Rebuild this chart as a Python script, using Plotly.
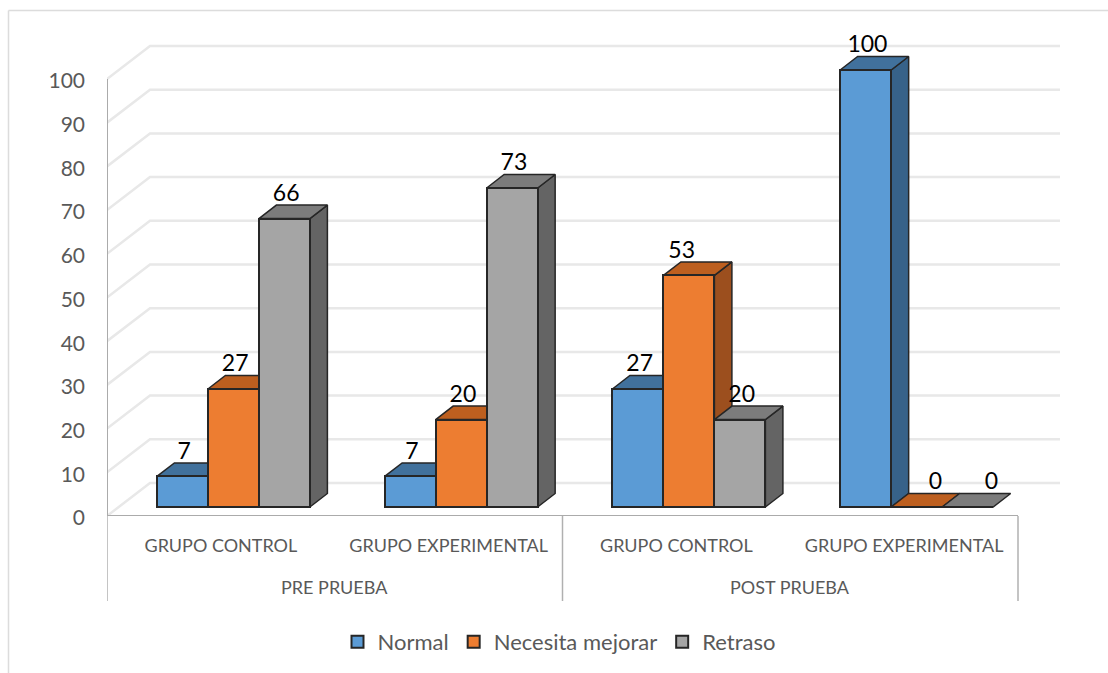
import plotly.graph_objects as go

W, H = 1108, 673
ML, MR, MT, MB = 107, 48, 20, 157

group_labels = ["GRUPO CONTROL", "GRUPO EXPERIMENTAL", "GRUPO CONTROL", "GRUPO EXPERIMENTAL"]
phase_labels = ["PRE PRUEBA", "POST PRUEBA"]
normal = [7, 7, 27, 100]
necesita = [27, 20, 53, 0]
retraso = [66, 73, 20, 0]
y_ticks = [0, 10, 20, 30, 40, 50, 60, 70, 80, 90, 100]

PW = W - ML - MR
PH = H - MT - MB
PX_X = 227.75          # px per group
PX_Y = 4.37            # px per value unit
X_MAX = PW / PX_X
Y_MAX = PH / PX_Y

WALL_DX, WALL_DY = 43 / PX_X, 33 / PX_Y
BASE_Y = 9 / PX_Y
BAR_W = 51 / PX_X
START = 0.555 - BAR_W
DEP_X, DEP_Y = 17.5 / PX_X, 13.5 / PX_Y

FONT = "Lato"
OUT = "#262626"

# horizontal nudges (px) of a few data labels, keyed by (series, group)
LABEL_NUDGE = {(1, 2): -9, (1, 3): 17, (2, 3): 22}


def pxp(px):
    return (px - ML) / PW


def pyp(py):
    return (H - MB - py) / PH


fig = go.Figure()

# walls / gridlines
gx, gy = [], []
for t in y_ticks:
    gx += [0, WALL_DX, X_MAX, None]
    gy += [t, t + WALL_DY, t + WALL_DY, None]
fig.add_trace(go.Scatter(x=gx, y=gy, mode="lines", line=dict(color="#e8e8e8", width=2.5),
                         showlegend=False, hoverinfo="skip", cliponaxis=False, zorder=0))
# axis lines
fig.add_trace(go.Scatter(x=[0, 0, 4], y=[100, 0, 0], mode="lines", line=dict(color="#ababab", width=2),
                         showlegend=False, hoverinfo="skip", cliponaxis=False, zorder=0))

series = [
    ("Normal", normal, "#5b9bd5", "#41719c", "#376289"),
    ("Necesita mejorar", necesita, "#ed7d31", "#bd5f1f", "#9c4f1e"),
    ("Retraso", retraso, "#a5a5a5", "#7c7c7c", "#646464"),
]

lx, ly, lt = [], [], []
for s, (name, vals, front, top, side) in enumerate(series):
    z = 1 + 3 * s
    xs = [i + START + s * BAR_W for i in range(4)]
    tx, ty, sx, sy = [], [], [], []
    for g, (x, v) in enumerate(zip(xs, vals)):
        l, r = x - BAR_W / 2, x + BAR_W / 2
        yt = v + BASE_Y
        tx += [l, r, r + DEP_X, l + DEP_X, l, None]
        ty += [yt, yt, yt + DEP_Y, yt + DEP_Y, yt, None]
        if v > 0:
            sx += [r, r + DEP_X, r + DEP_X, r, r, None]
            sy += [BASE_Y, BASE_Y + DEP_Y, yt + DEP_Y, yt, BASE_Y, None]
        lx.append(x + DEP_X / 2 + (LABEL_NUDGE.get((s, g), 0) - 7) / PX_X)
        ly.append(yt + DEP_Y - 1.5 / PX_Y)
        lt.append(str(v))
    if sx:
        fig.add_trace(go.Scatter(x=sx, y=sy, mode="lines", fill="toself", fillcolor=side,
                                 line=dict(color=OUT, width=1.5), showlegend=False,
                                 hoverinfo="skip", zorder=z))
    fig.add_trace(go.Scatter(x=tx, y=ty, mode="lines", fill="toself", fillcolor=top,
                             line=dict(color=OUT, width=1.5), showlegend=False,
                             hoverinfo="skip", zorder=z + 1))
    fig.add_trace(go.Bar(x=xs, y=vals, base=BASE_Y, width=BAR_W, name=name,
                         marker=dict(color=front, line=dict(color=OUT, width=2)),
                         hoverinfo="skip", zorder=z + 2))

fig.add_trace(go.Scatter(x=lx, y=ly, mode="text", text=lt, textposition="top center",
                         textfont=dict(family=FONT, size=23, color="#000000"),
                         showlegend=False, hoverinfo="skip", cliponaxis=False, zorder=20))

shapes = [
    dict(type="line", xref="x", yref="paper", x0=v, x1=v, y0=pyp(516), y1=pyp(601),
         line=dict(color="#b0b0b0", width=1.5))
    for v in (0, 2, 4)
]
frame = "#dcdcdc"
shapes.append(dict(type="line", xref="paper", yref="paper", x0=pxp(8.5), x1=pxp(8.5), y0=pyp(10.5), y1=pyp(673),
                   line=dict(color=frame, width=1.5)))
shapes.append(dict(type="line", xref="paper", yref="paper", x0=pxp(8.5), x1=pxp(1108), y0=pyp(10.5), y1=pyp(10.5),
                   line=dict(color=frame, width=1.5)))

annotations = [
    dict(x=x, xref="x", y=pyp(587), yref="paper", text=t, showarrow=False, yanchor="middle",
         font=dict(family=FONT, size=18, color="#595959"))
    for x, t in zip([1, 3], phase_labels)
]

fig.update_layout(
    width=W, height=H, autosize=False,
    margin=dict(l=ML, r=MR, t=MT, b=MB),
    paper_bgcolor="white", plot_bgcolor="white",
    barmode="overlay", bargap=0,
    shapes=shapes, annotations=annotations,
    xaxis=dict(range=[0, X_MAX], tickmode="array", tickvals=[0.5, 1.5, 2.5, 3.5], ticktext=group_labels,
               showgrid=False, zeroline=False, showline=False, ticks="", ticklabelstandoff=17,
               tickangle=0, tickfont=dict(family=FONT, size=18, color="#595959")),
    yaxis=dict(range=[0, Y_MAX], tickmode="array", tickvals=y_ticks,
               showgrid=False, zeroline=False, showline=False, ticks="", ticklabelstandoff=21,
               ticklabelshift=2,
               tickfont=dict(family=FONT, size=21, color="#595959")),
    legend=dict(orientation="h", xref="container", yref="container",
                x=559 / W, xanchor="center", y=1 - 642 / H, yanchor="middle",
                font=dict(family=FONT, size=22, color="#595959"), bgcolor="rgba(0,0,0,0)"),
    showlegend=True,
)

fig.write_html("out.html", post_script="document.body.style.margin='0';",
               config={"displayModeBar": False})
